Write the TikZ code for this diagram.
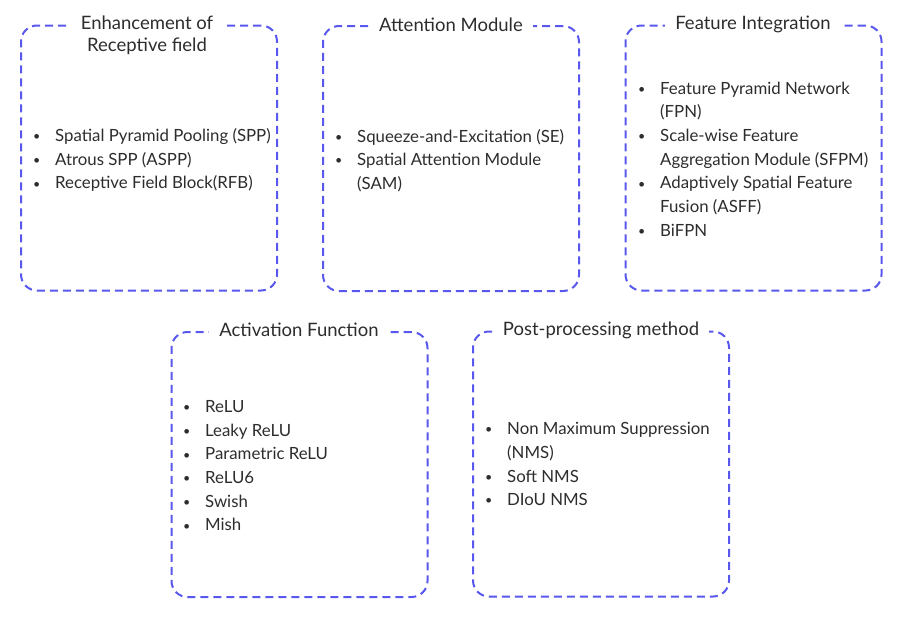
\documentclass[tikz,border=0pt]{standalone}
\usepackage{fontspec}
\setmainfont{Lato}
\definecolor{dashblue}{RGB}{88,88,238}
\definecolor{txt}{RGB}{45,45,45}
\newcommand\bu{\makebox[22pt][l]{\raisebox{0.8pt}{\fontsize{12.5}{12.5}\selectfont\textbullet}}}
\begin{document}
\begin{tikzpicture}[x=1pt,y=-1pt,
  box/.style={draw=dashblue, line width=2pt, dash pattern=on 8pt off 5pt,
    rounded corners=16pt, minimum width=256pt, minimum height=265pt, inner sep=0pt},
  ttl/.style={fill=white, text=txt, font=\fontsize{18.5}{22}\selectfont,
    inner xsep=10pt, inner ysep=1pt, align=center},
  lst/.style={anchor=west, inner sep=0pt, text=txt,
    font=\fontsize{16.8}{23.7}\selectfont}]
\useasboundingbox[fill=white] (0,0) rectangle (907,624);

% boxes
\node[box] (b1) at (149,158) {};
\node[box] (b2) at (451,158.5) {};
\node[box] (b3) at (753.5,158) {};
\node[box] (b4) at (299.5,464.5) {};
\node[box] (b5) at (601,464) {};

% titles
\node[ttl] (t1) at (147,35.5) {Enhancement of\\Receptive field};
\node[ttl] (t2) at (451,25) {Attention Module};
\node[ttl] (t3) at (753,24) {Feature Integration};
\node[ttl] (t4) at (299,330) {Activation Function};
\node[ttl] (t5) at (601,330) {Post-processing method};

% lists
\node[lst] (l1) at (33,160.5) {\begin{tabular}{@{}l@{}l@{}}
\bu & Spatial Pyramid Pooling (SPP)\\
\bu & Atrous SPP (ASPP)\\
\bu & Receptive Field Block(RFB)
\end{tabular}};
\node[lst] (l2) at (335,161) {\begin{tabular}{@{}l@{}l@{}}
\bu & Squeeze-and-Excitation (SE)\\
\bu & Spatial Attention Module\\
    & (SAM)
\end{tabular}};
\node[lst] (l3) at (638,160.5) {\begin{tabular}{@{}l@{}l@{}}
\bu & Feature Pyramid Network\\
    & (FPN)\\
\bu & Scale-wise Feature\\
    & Aggregation Module (SFPM)\\
\bu & Adaptively Spatial Feature\\
    & Fusion (ASFF)\\
\bu & BiFPN
\end{tabular}};
\node[lst] (l4) at (183,467) {\begin{tabular}{@{}l@{}l@{}}
\bu & ReLU\\
\bu & Leaky ReLU\\
\bu & Parametric ReLU\\
\bu & ReLU6\\
\bu & Swish\\
\bu & Mish
\end{tabular}};
\node[lst] (l5) at (485,465.5) {\begin{tabular}{@{}l@{}l@{}}
\bu & Non Maximum Suppression\\
    & (NMS)\\
\bu & Soft NMS\\
\bu & DIoU NMS
\end{tabular}};
\end{tikzpicture}
\end{document}
